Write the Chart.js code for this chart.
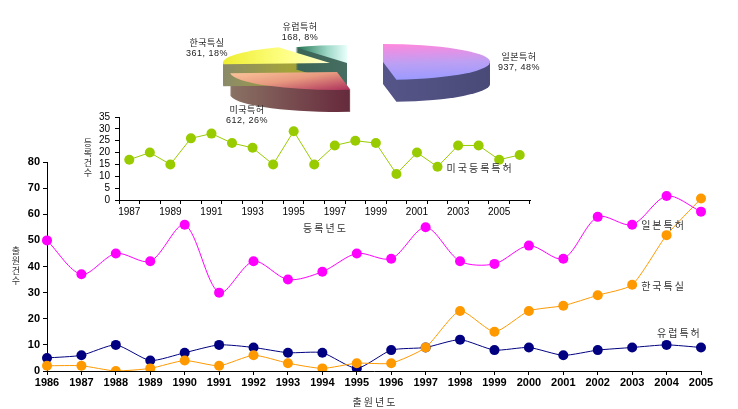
<!DOCTYPE html>
<html>
<head>
<meta charset="utf-8">
<script src="https://cdn.jsdelivr.net/npm/chart.js@4"></script>
<style>
  html, body { margin: 0; padding: 0; background: #fff; }
  #wrap { position: relative; width: 738px; height: 409px; overflow: hidden;
          font-family: Arial, "Noto Sans CJK KR", sans-serif; }
  canvas { position: absolute; }
  .plbl { position: absolute; font-size: 9px; line-height: 10px; color: #222;
          text-align: center; white-space: nowrap; letter-spacing: 0.5px; }
</style>
</head>
<body>
<div id="wrap">
  <canvas id="main" width="738" height="409" style="left:0;top:0"></canvas>
  <canvas id="sub" width="470" height="130" style="left:70px;top:105px"></canvas>
  <canvas id="pie" width="400" height="126" style="left:148px;top:0"></canvas>
</div>
<script>
// Data-----
const years = ['1986','1987','1988','1989','1990','1991','1992','1993','1994','1995',
               '1996','1997','1998','1999','2000','2001','2002','2003','2004','2005'];
const japanApps    = [50,37,45,42,56,30,42,35,38,45,43,55,42,41,48,43,59,56,67,61];
const koreaUtility = [2,2,0,1,4,2,6,3,1,3,3,9,23,15,23,25,29,33,52,66];
const europeApps   = [5,6,10,4,7,10,9,7,7,1,8,9,12,8,9,6,8,9,10,9];

const regYears = ['1987','1988','1989','1990','1991','1992','1993','1994','1995','1996',
                  '1997','1998','1999','2000','2001','2002','2003','2004','2005','2006'];
const usGrants = [17,20,15,26,28,24,22,15,29,15,23,25,24,11,20,14,23,23,17,19];

const pieNames    = ['일본특허','미국특허','한국특실','유럽특허'];
const pieCounts   = [937, 612, 361, 168];
const piePercents = [48, 26, 18, 8];
// Data-----

Chart.defaults.font.family = 'Arial, "Noto Sans CJK KR", sans-serif';
Chart.defaults.color = '#000';

// series name next to a point, and the stacked y title
const tagPlugin = {
    id: 'tags',
    afterDatasetsDraw(chart, args, opts) {
        const ctx = chart.ctx;
        chart.data.datasets.forEach((ds, i) => {
            if (!ds.tag) return;
            const pt = chart.getDatasetMeta(i).data[ds.tag.index];
            ctx.save();
            ctx.font = '10px "Noto Sans CJK KR", sans-serif';
            ctx.letterSpacing = '2px';
            ctx.fillStyle = '#333';
            ctx.textAlign = 'left';
            ctx.textBaseline = 'middle';
            ctx.fillText(ds.tag.text, pt.x + ds.tag.dx, pt.y + ds.tag.dy);
            ctx.restore();
        });
        if (opts.vtitle) {
            const t = opts.vtitle;
            ctx.save();
            ctx.font = '9px "Noto Sans CJK KR", sans-serif';
            ctx.fillStyle = '#333';
            ctx.textAlign = 'center';
            ctx.textBaseline = 'middle';
            [...t.text].forEach((c, k) => ctx.fillText(c, t.x, t.y + k * t.step));
            ctx.restore();
        }
    }
};

const axisLook = (size, bold) => ({
    grid: { drawOnChartArea: false, color: '#000', tickLength: 4 },
    border: { color: '#000' },
    ticks: { font: { size: size, weight: bold ? 'bold' : 'normal' }, color: '#000' }
});

// Main chart-----
const mx = axisLook(11, true), my = axisLook(11, true);
new Chart(document.getElementById('main'), {
    type: 'line',
    data: {
        labels: years,
        datasets: [
            { data: japanApps, borderColor: '#ff00ff', backgroundColor: '#ff00ff', tension: 0.3,
              tag: { text: '일본특허', index: 17, dx: 9, dy: 1 } },
            { data: koreaUtility, borderColor: '#ff9900', backgroundColor: '#ff9900', tension: 0.2,
              tag: { text: '한국특실', index: 17, dx: 9, dy: 1 } },
            { data: europeApps, borderColor: '#000080', backgroundColor: '#000080', tension: 0.2,
              tag: { text: '유럽특허', index: 19, dx: -44, dy: -14 } }
        ]
    },
    options: {
        responsive: false,
        animation: false,
        events: [],
        layout: { padding: { left: 7, top: 162, right: 37, bottom: 0 } },
        elements: { line: { borderWidth: 1 }, point: { radius: 5, borderWidth: 0 } },
        plugins: {
            legend: { display: false }, tooltip: { enabled: false },
            tags: { vtitle: { text: '출원건수', x: 16, y: 251, step: 10 } }
        },
        scales: {
            x: {
                ...mx,
                ticks: { ...mx.ticks, autoSkip: false, maxRotation: 0, padding: 1 },
                title: { display: true, text: '출\u2009원\u2009년\u2009도', font: { size: 10 }, color: '#333', padding: 0 },
                afterFit: s => { s.height = 38; }
            },
            y: {
                ...my,
                min: 0, max: 80,
                ticks: { ...my.ticks, stepSize: 10, padding: 3, autoSkip: false },
                afterFit: s => { s.width = 40; }
            }
        }
    },
    plugins: [tagPlugin]
});

// Inset chart-----
const sx = axisLook(10, false), sy = axisLook(10, false);
new Chart(document.getElementById('sub'), {
    type: 'line',
    data: {
        labels: regYears,
        datasets: [
            { data: usGrants, borderColor: '#99cc00', backgroundColor: '#99cc00', tension: 0,
              tag: { text: '미국등록특허', index: 15, dx: 9, dy: 1 } }
        ]
    },
    options: {
        responsive: false,
        animation: false,
        events: [],
        layout: { padding: { left: 0, top: 12, right: 10, bottom: 0 } },
        elements: { line: { borderWidth: 1 }, point: { radius: 5, borderWidth: 0 } },
        plugins: {
            legend: { display: false }, tooltip: { enabled: false },
            tags: { vtitle: { text: '등록건수', x: 18, y: 38, step: 10 } }
        },
        scales: {
            x: {
                ...sx,
                offset: true,
                grid: { ...sx.grid, offset: true },
                ticks: { ...sx.ticks, autoSkip: false, maxRotation: 0, padding: 2,
                         callback: function (v, i) { return i % 2 === 0 ? this.getLabelForValue(v) : ''; } },
                title: { display: true, text: '등\u2009록\u2009년\u2009도', font: { size: 10 }, color: '#333', padding: 0 },
                afterFit: s => { s.height = 35; }
            },
            y: {
                ...sy,
                min: 0, max: 35,
                ticks: { ...sy.ticks, stepSize: 5, padding: 5, autoSkip: false },
                afterFit: s => { s.width = 49; }
            }
        }
    },
    plugins: [tagPlugin]
});

// Pie (3D look)-----
const TILT = 18 / 107;
const DEPTH = 22;
const explode = [[35, -1], [-11, 9], [-18, 0], [-1, 0]];
const topStops = [
    [[0, '#ff88dd'], [0.55, '#bba0f4'], [1, '#9a9aff']],
    [[0, '#ffd0a0'], [0.5, '#e89a80'], [1, '#a82858']],
    [[0, '#eeee30'], [0.6, '#ffff88'], [1, '#ffffd0']],
    [[0, '#2a7a5a'], [0.6, '#9fd8c8'], [1, '#e8fffa']]
];
const sideStops = [
    [[0, '#60609a'], [1, '#4a4a78']],
    [[0, '#8a7264'], [0.5, '#6a3040'], [1, '#3a0a28']],
    [[0, '#8a8a6a'], [0.3, '#a3a33a'], [1, '#8e8e20']],
    [[0, '#2d5a4c'], [1, '#5f8075']]
];
const grad = (ctx, x0, y0, x1, y1, stops) => {
    const g = ctx.createLinearGradient(x0, y0, x1, y1);
    stops.forEach(s => g.addColorStop(s[0], s[1]));
    return g;
};

const pie3d = {
    id: 'pie3d',
    afterUpdate(chart) {
        chart.getDatasetMeta(0).data.forEach((arc, i) => {
            arc.x += explode[i][0];
            arc.y += explode[i][1] / TILT;
        });
    },
    beforeDatasetsDraw(chart) {
        const ctx = chart.ctx;
        const cy = (chart.chartArea.top + chart.chartArea.bottom) / 2;
        ctx.save();
        ctx.translate(0, cy);
        ctx.scale(1, TILT);
        ctx.translate(0, -cy);
        chart.getDatasetMeta(0).data.forEach((arc, i) => {
            const r = arc.outerRadius;
            ctx.fillStyle = grad(ctx, arc.x - r, 0, arc.x + r, 0, sideStops[i]);
            for (let d = DEPTH; d > 0; d--) {
                const y = arc.y + d / TILT;
                ctx.beginPath();
                ctx.moveTo(arc.x, y);
                ctx.arc(arc.x, y, r, arc.startAngle, arc.endAngle);
                ctx.closePath();
                ctx.fill();
            }
            let top;
            if (i === 0) top = grad(ctx, arc.x, arc.y - r, arc.x + 0.3 * r, arc.y + r, topStops[i]);
            else if (i === 1) top = grad(ctx, arc.x - r, arc.y - 0.2 * r, arc.x + 0.2 * r, arc.y + r, topStops[i]);
            else if (i === 2) top = grad(ctx, arc.x - r, 0, arc.x, 0, topStops[i]);
            else top = grad(ctx, arc.x - 0.45 * r, 0, arc.x, 0, topStops[i]);
            arc.options = Object.assign({}, arc.options, { backgroundColor: top });
        });
    },
    afterDatasetsDraw(chart) {
        chart.ctx.restore();
    }
};

new Chart(document.getElementById('pie'), {
    type: 'pie',
    data: {
        labels: pieNames,
        datasets: [{
            data: piePercents,
            backgroundColor: ['#ff88dd', '#ffd8a8', '#ffff66', '#2a7050'],
            borderWidth: 0,
            clip: false
        }]
    },
    options: {
        responsive: false,
        animation: false,
        events: [],
        radius: 107,
        layout: { padding: 0 },
        plugins: { legend: { display: false }, tooltip: { enabled: false } }
    },
    plugins: [pie3d]
});

// pie labels
const pieLabelPos = [[519, 52], [247, 105], [207, 38], [300, 22]];
pieNames.forEach((n, i) => {
    const d = document.createElement('div');
    d.className = 'plbl';
    d.innerHTML = n + '<br>' + pieCounts[i] + ', ' + piePercents[i] + '%';
    d.style.left = (pieLabelPos[i][0] - 30) + 'px';
    d.style.width = '60px';
    d.style.top = pieLabelPos[i][1] + 'px';
    document.getElementById('wrap').appendChild(d);
});
</script>
</body>
</html>
